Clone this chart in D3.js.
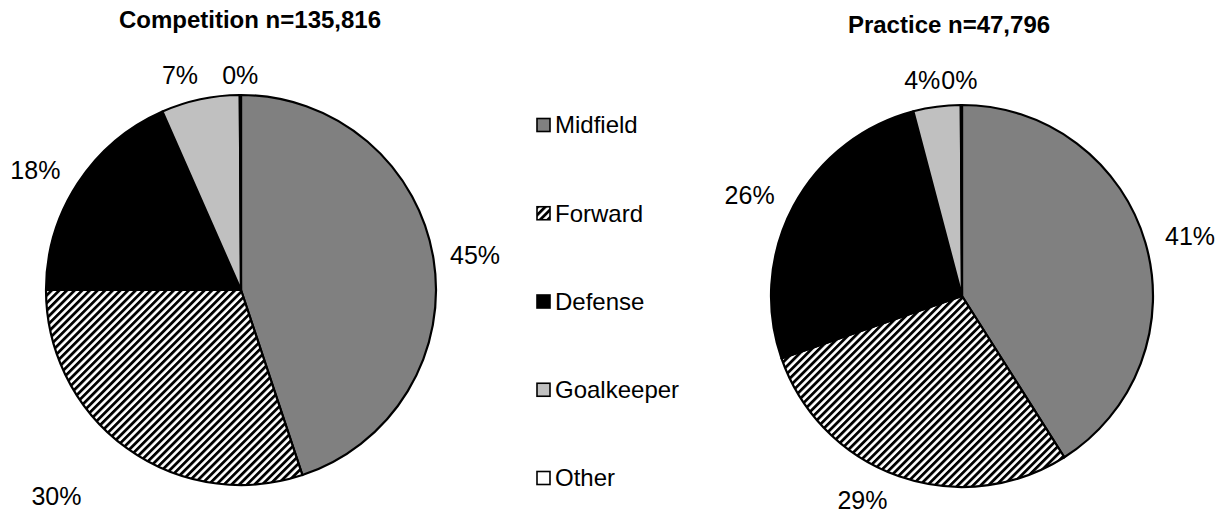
<!DOCTYPE html>
<html>
<head>
<meta charset="utf-8">
<script src="https://cdn.jsdelivr.net/npm/d3@7"></script>
<style>
  html, body { margin: 0; padding: 0; background: #fff; }
  svg { display: block; font-family: "Liberation Sans", Arial, sans-serif; }
</style>
</head>
<body>
<svg id="chart" width="1225" height="518"></svg>
<script>
// ---- data ----
const categories = ["Midfield", "Forward", "Defense", "Goalkeeper", "Other"];
const competitionValues = [44.9, 30.1, 18.4, 6.5, 0.1];
const practiceValues = [41.0, 28.7, 26.2, 4.0, 0.1];
const chartTitles = ["Competition n=135,816", "Practice n=47,796"];

// ---- layout / style ----
const W = 1225, H = 518;
const fills = ["#808080", "url(#hatch)", "#000000", "#c0c0c0", "#ffffff"];
const pies = [
  { values: competitionValues, title: chartTitles[0], cx: 241, cy: 290, r: 195, titleX: 250, titleY: 28,
    nudges: [[7, 2], [-50, 20], [-13, 6], [-13, 10], [0, 15]] },
  { values: practiceValues, title: chartTitles[1], cx: 962, cy: 296, r: 191, titleX: 949, titleY: 33,
    nudges: [[11, 3], [-25, -9], [-13, 6], [-10, 8], [-2, 10]] }
];

const svg = d3.select("#chart");
const defs = svg.append("defs");
const pat = defs.append("pattern")
  .attr("id", "hatch")
  .attr("patternUnits", "userSpaceOnUse")
  .attr("width", 5.4).attr("height", 5.4)
  .attr("patternTransform", "rotate(45)");
pat.append("rect").attr("width", 5.4).attr("height", 5.4).attr("fill", "#fff");
pat.append("rect").attr("x", 0).attr("y", 0).attr("width", 2.8).attr("height", 5.4).attr("fill", "#000");

const pieGen = d3.pie().sort(null).value(d => d);

pies.forEach(p => {
  const g = svg.append("g").attr("transform", `translate(${p.cx},${p.cy})`);
  const arcs = pieGen(p.values);
  const arc = d3.arc().innerRadius(0).outerRadius(p.r);
  const labelArc = d3.arc().innerRadius(p.r + 35).outerRadius(p.r + 35);

  g.selectAll("path.slice").data(arcs).enter().append("path")
    .attr("class", "slice")
    .attr("d", arc)
    .attr("fill", (d, i) => fills[i])
    .attr("stroke", "#000")
    .attr("stroke-width", 2.2)
    .attr("stroke-linejoin", "round");

  g.selectAll("text.lbl").data(arcs).enter().append("text")
    .attr("class", "lbl")
    .attr("x", (d, i) => labelArc.centroid(d)[0] + p.nudges[i][0])
    .attr("y", (d, i) => labelArc.centroid(d)[1] + p.nudges[i][1])
    .attr("dy", "0.35em")
    .attr("text-anchor", "middle")
    .attr("font-size", 25)
    .attr("fill", "#000")
    .text(d => Math.round(d.data) + "%");

  svg.append("text")
    .attr("x", p.titleX).attr("y", p.titleY)
    .attr("text-anchor", "middle")
    .attr("font-size", 24)
    .attr("font-weight", "bold")
    .text(p.title);
});

// ---- legend ----
const legendY = d3.scalePoint().domain(categories).range([125, 478]);
const lg = svg.append("g");
const items = lg.selectAll("g.item").data(categories).enter().append("g")
  .attr("class", "item")
  .attr("transform", d => `translate(537,${legendY(d)})`);
items.append("rect")
  .attr("x", 0).attr("y", -6.5).attr("width", 13).attr("height", 13)
  .attr("fill", (d, i) => fills[i])
  .attr("stroke", "#000").attr("stroke-width", 1.6);
items.append("text")
  .attr("x", 18).attr("y", 0).attr("dy", "0.35em")
  .attr("font-size", 24)
  .text(d => d);
</script>
</body>
</html>
